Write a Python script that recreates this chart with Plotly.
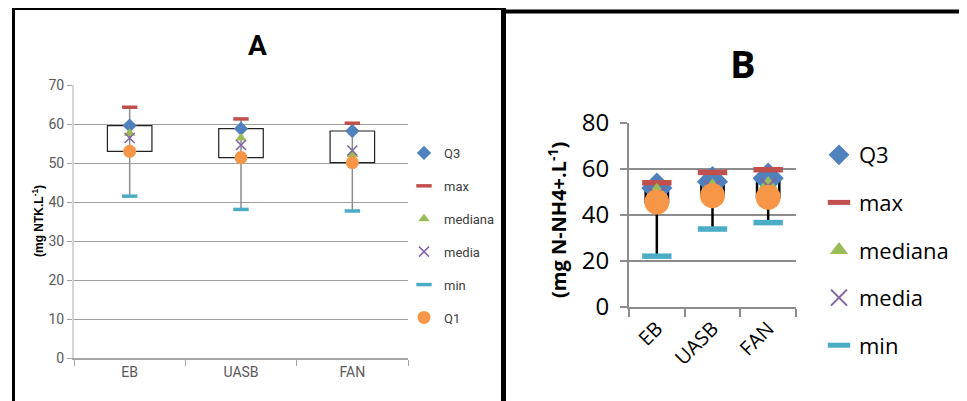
import plotly.graph_objects as go

W, H = 967, 401
OFF = 8  # page body margin in the browser

categories = ["EB", "UASB", "FAN"]

# Panel A (mg NTK.L-1)
a_q3 = [59.6, 58.8, 58.2]
a_max = [64.3, 61.3, 60.2]
a_mediana = [57.6, 56.4, 52.2]
a_media = [56.4, 54.6, 53.2]
a_min = [41.5, 38.1, 37.7]
a_q1 = [53.0, 51.4, 50.1]

# Panel B (mg N-NH4+.L-1)
b_q3 = [51.7, 54.5, 56.0]
b_max = [54.0, 58.5, 59.7]
b_mediana = [50.5, 52.5, 53.5]
b_media = [48.5, 51.5, 52.5]
b_min = [22.1, 33.9, 36.7]
b_q1 = [45.6, 48.4, 47.7]

a_yticks = [0, 10, 20, 30, 40, 50, 60, 70]
b_yticks = [0, 20, 40, 60, 80]

C_Q3 = "#4f81bd"
C_MAX = "#c0504d"
C_MED = "#9bbb59"
C_MEDIA = "#8064a2"
C_MIN = "#4bacc6"
C_Q1 = "#f79646"


def px(x):
    return (x - OFF) / W


def py(y):
    return 1 - (y - OFF) / H


def whisker(lo, hi):
    xs, ys = [], []
    for c, l, h in zip(categories, lo, hi):
        xs += [c, c, None]
        ys += [l, h, None]
    return xs, ys


fig = go.Figure()

# ---------- Panel A ----------
wx, wy = whisker(a_min, a_max)
fig.add_trace(go.Scatter(x=wx, y=wy, mode="lines", line=dict(color="#8c8c8c", width=1.5),
                         showlegend=False, hoverinfo="skip", xaxis="x", yaxis="y"))
fig.add_trace(go.Bar(x=categories, y=[h - l for h, l in zip(a_q3, a_q1)], base=a_q1, width=0.4,
                     marker=dict(color="white", line=dict(color="#222222", width=1.2)),
                     showlegend=False, hoverinfo="skip", xaxis="x", yaxis="y"))
a_series = [
    ("Q3", a_q3, dict(symbol="diamond", size=11, color=C_Q3)),
    ("max", a_max, dict(symbol="line-ew-open", size=11, line=dict(color=C_MAX, width=3.5), color=C_MAX)),
    ("mediana", a_mediana, dict(symbol="triangle-up", size=10, color=C_MED)),
    ("media", a_media, dict(symbol="x-thin-open", size=10, line=dict(color=C_MEDIA, width=1.5), color=C_MEDIA)),
    ("min", a_min, dict(symbol="line-ew-open", size=11, line=dict(color=C_MIN, width=3.5), color=C_MIN)),
    ("Q1", a_q1, dict(symbol="circle", size=13, color=C_Q1)),
]
for name, vals, mk in a_series:
    fig.add_trace(go.Scatter(x=categories, y=vals, mode="markers", name=name, marker=mk,
                             xaxis="x", yaxis="y", legend="legend", legendgroup="a" + name))

# ---------- Panel B ----------
wx, wy = whisker(b_min, b_max)
fig.add_trace(go.Scatter(x=wx, y=wy, mode="lines", line=dict(color="black", width=2.5),
                         showlegend=False, hoverinfo="skip", xaxis="x2", yaxis="y2"))
fig.add_trace(go.Bar(x=categories, y=[h - l for h, l in zip(b_q3, b_q1)], base=b_q1, width=0.4,
                     marker=dict(color="white", line=dict(color="black", width=2.5)),
                     showlegend=False, hoverinfo="skip", xaxis="x2", yaxis="y2"))
b_series = [
    ("Q3", b_q3, dict(symbol="diamond", size=24, color=C_Q3), True),
    ("max", b_max, dict(symbol="line-ew-open", size=21, line=dict(color=C_MAX, width=5.5), color=C_MAX), True),
    ("mediana", b_mediana, dict(symbol="triangle-up", size=16, color=C_MED), True),
    ("media", b_media, dict(symbol="x-thin-open", size=16, line=dict(color=C_MEDIA, width=2), color=C_MEDIA), True),
    ("min", b_min, dict(symbol="line-ew-open", size=21, line=dict(color=C_MIN, width=5.5), color=C_MIN), True),
    ("Q1", b_q1, dict(symbol="circle", size=25, color=C_Q1), False),
]
for name, vals, mk, sl in b_series:
    fig.add_trace(go.Scatter(x=categories, y=vals, mode="markers", name=name, marker=mk,
                             showlegend=sl, xaxis="x2", yaxis="y2", legend="legend2",
                             legendgroup="b" + name))

FA = "Liberation Sans Narrow, Arial Narrow, Roboto, sans-serif"
FB = "Open Sans, Noto Sans, sans-serif"

fig.update_layout(
    width=W, height=H, autosize=False,
    margin=dict(l=0, r=0, t=0, b=0, autoexpand=False),
    paper_bgcolor="white", plot_bgcolor="white",
    barmode="overlay",
    xaxis=dict(domain=[px(74), px(408)], type="category", categoryarray=categories,
               range=[-0.5, 2.5], tickson="boundaries", ticks="outside", ticklen=6,
               tickcolor="#a6a6a6", showline=True, linecolor="#a6a6a6", linewidth=1.5,
               tickfont=dict(family=FA, size=14, color="#595959"), showgrid=False,
               zeroline=False, anchor="y", automargin=False),
    yaxis=dict(domain=[py(358), py(85)], range=[0, 70], tickvals=a_yticks,
               ticks="outside", ticklen=5, tickcolor="#a0a0a0", showgrid=True,
               gridcolor="#a0a0a0", gridwidth=1, showline=True, linecolor="#d6d6d6",
               linewidth=2, zeroline=False, automargin=False,
               tickfont=dict(family=FA, size=14, color="#595959"), anchor="x"),
    xaxis2=dict(domain=[px(629), px(796)], type="category", categoryarray=categories,
                range=[-0.5, 2.5], tickson="boundaries", ticks="outside", ticklen=8,
                tickcolor="#8c8c8c", tickwidth=2, showline=True, linecolor="#8c8c8c",
                linewidth=2, tickangle=-45, showgrid=False, zeroline=False, automargin=False,
                tickfont=dict(family=FB, size=20, color="black"), anchor="y2"),
    yaxis2=dict(domain=[py(307), py(123)], range=[0, 80], tickvals=b_yticks,
                ticks="outside", ticklen=7, tickcolor="#8c8c8c", tickwidth=2,
                showgrid=True, gridcolor="#8c8c8c", gridwidth=2, showline=True,
                linecolor="#8c8c8c", linewidth=2, zeroline=False, automargin=False,
                tickfont=dict(family=FB, size=24, color="black"), anchor="x2",
                ticklabelstandoff=6),
    legend=dict(x=px(404), y=py(138), xanchor="left", yanchor="top",
                font=dict(family=FA, size=13, color="#404040"), bgcolor="rgba(0,0,0,0)",
                tracegroupgap=13, itemwidth=30),
    legend2=dict(x=px(819), y=py(134), xanchor="left", yanchor="top",
                 font=dict(family=FB, size=22, color="black"), bgcolor="rgba(0,0,0,0)",
                 tracegroupgap=16, itemwidth=30),
    showlegend=True,
)

annotations = [
    dict(text="<b>A</b>", x=px(257), y=py(45), font=dict(family=FA, size=28, color="black")),
    dict(text="<b>B</b>", x=px(743), y=py(63), font=dict(family=FB, size=38, color="black")),
    dict(text="<b>(mg NTK.L<sup>-1</sup>)</b>", x=px(38), y=py(221), textangle=-90,
         font=dict(family="Liberation Sans, Arial, sans-serif", size=12, color="black")),
    dict(text="<b>(mg N-NH4+.L<sup>-1</sup>)</b>", x=px(557), y=py(220), textangle=-90,
         font=dict(family=FB, size=20, color="black")),
]
for a in annotations:
    a.update(xref="paper", yref="paper", showarrow=False, xanchor="center", yanchor="middle")
fig.update_layout(annotations=annotations)

shapes = [
    dict(x0=px(13.5), x1=px(13.5), y0=py(7), y1=py(420), line=dict(color="black", width=3)),
    dict(x0=px(12), x1=px(505), y0=py(8.5), y1=py(8.5), line=dict(color="black", width=3)),
    dict(x0=px(503.5), x1=px(503.5), y0=py(7), y1=py(420), line=dict(color="black", width=5)),
    dict(x0=px(503), x1=px(980), y0=py(11.5), y1=py(11.5), line=dict(color="black", width=4)),
]
for s in shapes:
    s.update(type="line", xref="paper", yref="paper")
fig.update_layout(shapes=shapes)

fig.write_html("out.html")
